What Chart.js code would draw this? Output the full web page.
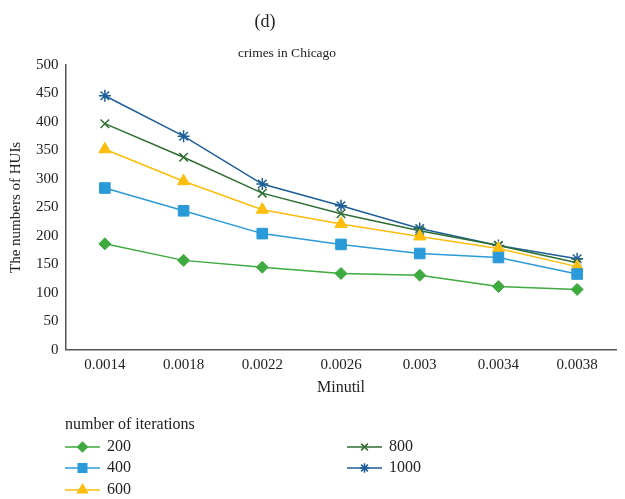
<!DOCTYPE html>
<html>
<head>
<meta charset="utf-8">
<script src="https://cdn.jsdelivr.net/npm/chart.js@4"></script>
<style>
  html, body { margin: 0; padding: 0; background: #fff; }
  #wrap { width: 625px; height: 499px; }
</style>
</head>
<body>
<div id="wrap"><canvas id="myChart"></canvas></div>
<script>
const minutil = ['0.0014', '0.0018', '0.0022', '0.0026', '0.003', '0.0034', '0.0038'];
const iter200 = [186, 157, 145, 134, 131, 111, 106];
const iter400 = [284, 244, 204, 185, 169, 162, 133];
const iter600 = [352, 296, 246, 221, 199, 178, 146];
const iter800 = [397, 338, 275, 239, 209, 183, 153];
const iter1000 = [446, 375, 291, 253, 213, 183, 160];
const yTicks = [0, 50, 100, 150, 200, 250, 300, 350, 400, 450, 500];

const serif = "'Liberation Serif', 'DejaVu Serif', serif";
Chart.defaults.font.family = serif;
Chart.defaults.color = '#222';

function series(label, values, color, style, radius) {
  return {
    label: label,
    data: values,
    borderColor: color,
    backgroundColor: color,
    pointBackgroundColor: color,
    pointBorderColor: color,
    pointStyle: style,
    pointRadius: radius,
    pointHoverRadius: radius,
    pointBorderWidth: style === 'star' || style === 'crossRot' ? 1.5 : 1,
    borderWidth: 1.5,
    tension: 0
  };
}

// panel label and chart title above the plot
const headings = {
  id: 'headings',
  afterDraw(chart) {
    const ctx = chart.ctx;
    ctx.save();
    ctx.fillStyle = '#222';
    ctx.textAlign = 'center';
    ctx.textBaseline = 'middle';
    ctx.font = '18px ' + serif;
    ctx.fillText('(d)', 265, 22);
    ctx.font = '13.5px ' + serif;
    ctx.fillText('crimes in Chicago', 287, 53);
    ctx.restore();
  }
};

// legend drawn in two columns under the x axis title
const bottomLegend = {
  id: 'bottomLegend',
  afterDraw(chart) {
    const ctx = chart.ctx;
    ctx.save();
    ctx.font = '16px ' + serif;
    ctx.fillStyle = '#222';
    ctx.textBaseline = 'middle';
    ctx.fillText('number of iterations', 65, 425);
    const slots = [[65, 447], [65, 468], [65, 490], [347, 447], [347, 468]];
    chart.data.datasets.forEach((ds, i) => {
      const [x, y] = slots[i];
      ctx.strokeStyle = ds.borderColor;
      ctx.fillStyle = ds.borderColor;
      ctx.lineWidth = 1.5;
      ctx.beginPath();
      ctx.moveTo(x, y);
      ctx.lineTo(x + 35, y);
      ctx.stroke();
      Chart.helpers.drawPoint(ctx, {
        pointStyle: ds.pointStyle,
        radius: ds.pointRadius * 0.8,
        borderWidth: ds.pointBorderWidth,
        rotation: 0
      }, x + 17.5, y);
      ctx.fillStyle = '#222';
      ctx.fillText(ds.label, x + 42, y);
    });
    ctx.restore();
  }
};

const ctx = document.getElementById('myChart').getContext('2d');
const myChart = new Chart(ctx, {
  type: 'line',
  data: {
    labels: minutil,
    datasets: [
      series('200', iter200, '#3faa3f', 'rectRot', 6),
      series('400', iter400, '#2b9ad8', 'rect', 7.5),
      series('600', iter600, '#fdbd0c', 'triangle', 7),
      series('800', iter800, '#2e6d32', 'crossRot', 6),
      series('1000', iter1000, '#1d5e99', 'star', 6)
    ]
  },
  plugins: [headings, bottomLegend],
  options: {
    responsive: true,
    maintainAspectRatio: false,
    animation: false,
    layout: { padding: { left: 3, right: 8, top: 65, bottom: 98 } },
    plugins: {
      legend: { display: false },
      tooltip: { enabled: false },
      title: { display: false },
      subtitle: { display: false }
    },
    scales: {
      x: {
        offset: true,
        grid: { display: false, drawTicks: false },
        border: { color: '#555', width: 1.5 },
        ticks: { font: { size: 15 }, padding: 6, maxRotation: 0 },
        title: { display: true, text: 'Minutil', font: { size: 16 }, padding: { top: -2, bottom: 4 } }
      },
      y: {
        min: 0,
        max: 500,
        afterBuildTicks(axis) { axis.ticks = yTicks.map(v => ({ value: v })); },
        grid: { display: false, drawTicks: false },
        border: { color: '#555', width: 1.5 },
        ticks: { font: { size: 15 }, padding: 7 },
        title: { display: true, text: 'The numbers of HUIs', font: { size: 15 }, padding: { bottom: 4 } }
      }
    }
  }
});
</script>
</body>
</html>
